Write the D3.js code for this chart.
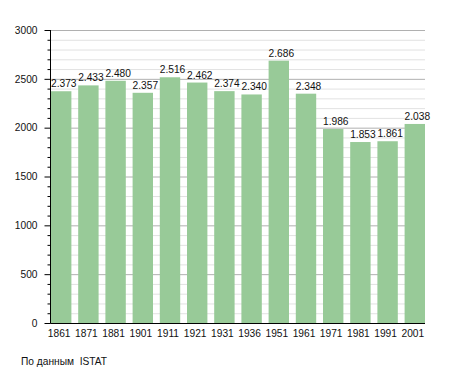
<!DOCTYPE html>
<html>
<head>
<meta charset="utf-8">
<script src="https://cdnjs.cloudflare.com/ajax/libs/d3/7.8.5/d3.min.js"></script>
<style>
  body { margin: 0; background: #fff; }
  svg { display: block; font-family: "Liberation Sans", Arial, sans-serif; }
</style>
</head>
<body>
<script>
const years = ['1861','1871','1881','1901','1911','1921','1931','1936','1951','1961','1971','1981','1991','2001'];
const values = [2373, 2433, 2480, 2357, 2516, 2462, 2374, 2340, 2686, 2348, 1986, 1853, 1861, 2038];
const yTicks = [0, 500, 1000, 1500, 2000, 2500, 3000];
const source = 'По данным  ISTAT';

const width = 455;
const height = 373;
const plotLeft = 51;
const plotRight = 425;
const plotTop = 30;
const plotBottom = 323;

const fmt = d3.formatLocale({ decimal: ',', thousands: '.', grouping: [3], currency: ['', ''] }).format(',d');

const svg = d3.select('body')
              .append('svg')
              .attr('width', width)
              .attr('height', height);

const x = d3.scaleBand()
            .domain(years)
            .range([plotLeft, plotRight])
            .paddingInner(0.25)
            .paddingOuter(0);

const y = d3.scaleLinear()
            .domain([0, 3000])
            .range([plotBottom, plotTop]);

//minor grid every 100
svg.append('g')
   .selectAll('line')
   .data(d3.range(100, 3001, 100).filter(v => v % 500 !== 0))
   .enter()
   .append('line')
   .attr('x1', plotLeft)
   .attr('x2', plotRight)
   .attr('y1', d => y(d) + 0.5)
   .attr('y2', d => y(d) + 0.5)
   .attr('stroke', '#e2e2e2');

//major grid every 500
svg.append('g')
   .selectAll('line')
   .data(yTicks.filter(v => v > 0))
   .enter()
   .append('line')
   .attr('x1', plotLeft)
   .attr('x2', plotRight)
   .attr('y1', d => y(d) + 0.5)
   .attr('y2', d => y(d) + 0.5)
   .attr('stroke', '#b0b0b0');

//bars
svg.selectAll('rect.bar')
   .data(values)
   .enter()
   .append('rect')
   .attr('class', 'bar')
   .attr('x', (d, i) => x(years[i]))
   .attr('y', d => y(d))
   .attr('width', x.bandwidth())
   .attr('height', d => plotBottom - y(d))
   .attr('fill', '#98ca98');

//value labels
svg.selectAll('text.val')
   .data(values)
   .enter()
   .append('text')
   .attr('class', 'val')
   .text(d => fmt(d))
   .attr('x', (d, i) => x(years[i]))
   .attr('y', d => y(d) - 4)
   .attr('font-size', 10.2)
   .attr('fill', '#111');

//y axis
const yAxis = svg.append('g')
                 .attr('transform', 'translate(' + (plotLeft - 0.5) + ',0)')
                 .call(d3.axisLeft(y).tickValues(yTicks).tickSize(6).tickPadding(7).tickFormat(d3.format('d')))
                 .attr('font-family', null);
yAxis.selectAll('text').attr('font-size', 10.2).attr('fill', '#111');
yAxis.selectAll('line').attr('stroke', '#000');
yAxis.select('.domain').attr('d', 'M0,' + plotTop + 'V' + (plotBottom + 0.5));

//minor ticks on y axis
svg.append('g')
   .selectAll('line')
   .data(d3.range(100, 3000, 100).filter(v => v % 500 !== 0))
   .enter()
   .append('line')
   .attr('x1', plotLeft - 3.5)
   .attr('x2', plotLeft - 0.5)
   .attr('y1', d => y(d) + 0.5)
   .attr('y2', d => y(d) + 0.5)
   .attr('stroke', '#000');

//x axis
const xAxis = svg.append('g')
                 .attr('transform', 'translate(-2,' + (plotBottom + 0.5) + ')')
                 .call(d3.axisBottom(x).tickSize(0).tickPadding(6))
                 .attr('font-family', null);
xAxis.select('.domain').attr('d', 'M' + (plotLeft + 1.5) + ',0H' + (plotRight + 2)).attr('stroke', '#000');
xAxis.selectAll('text').attr('font-size', 10.2).attr('fill', '#111');

//source note
svg.append('text')
   .attr('x', 21)
   .attr('y', 365)
   .attr('font-size', 10.2)
   .attr('fill', '#111')
   .style('white-space', 'pre')
   .text(source);
</script>
</body>
</html>
